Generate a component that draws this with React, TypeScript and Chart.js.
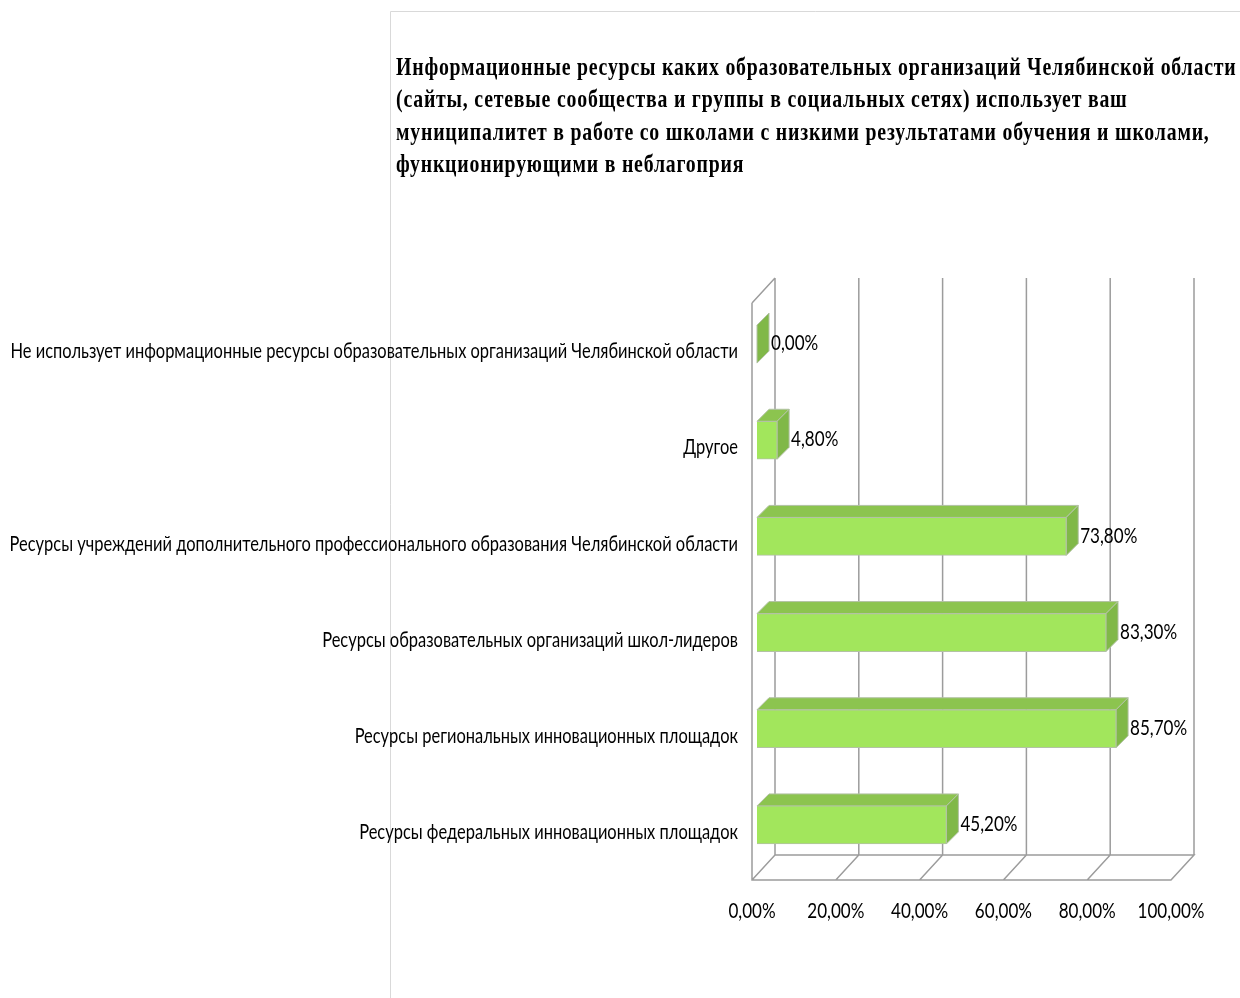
import React, { useEffect, useRef } from "react";
import { Chart, registerables } from "chart.js";

Chart.register(...registerables);

const categories = [
  "Не использует информационные ресурсы образовательных организаций Челябинской области",
  "Другое",
  "Ресурсы учреждений дополнительного профессионального образования Челябинской области",
  "Ресурсы образовательных организаций школ-лидеров",
  "Ресурсы региональных инновационных площадок",
  "Ресурсы федеральных инновационных площадок",
];
const values = [0, 4.8, 73.8, 83.3, 85.7, 45.2];
const xTicks = [0, 20, 40, 60, 80, 100];
const titleLines = [
  "Информационные ресурсы каких образовательных организаций Челябинской области",
  "(сайты, сетевые сообщества и группы в социальных сетях) использует ваш",
  "муниципалитет в работе со школами с низкими результатами обучения и школами,",
  "функционирующими в неблагоприя",
];

const LABEL_FONT = 'Lato, "Open Sans", sans-serif';
const LABEL_SIZE = 22;
const NUMBER_SQUEEZE = 0.775;
const CATEGORY_SQUEEZE = 0.748;
const TITLE_SQUEEZE = 0.792;
const GRID = "#9c9c9c";
const FRONT = "#a2e65c";
const TOP = "#8cc44f";
const SIDE = "#80b848";
const EDGE = "#b3c2a5";
const WALL_DX = 23;
const WALL_DY = 25;
const BAR_DX = 12;
const BAR_DY = 12;
const BAR_SHIFT_X = 5;
const BAR_SHIFT_Y = -7;
const fmt = (v: number) => v.toFixed(2).replace(".", ",") + "%";

let squeeze = NUMBER_SQUEEZE;

const withSqueeze = (ctx: any, target: any, method: string, value: number, spacing = "0px") => {
  const d = target[method];
  target[method] = function (...args: any[]) {
    squeeze = value;
    ctx.letterSpacing = spacing;
    d.apply(target, args);
    squeeze = NUMBER_SQUEEZE;
    ctx.letterSpacing = "0px";
  };
};

const scene = {
  id: "scene3d",
  beforeInit(chart: any) {
    const ctx = chart.ctx;
    const orig = ctx.fillText.bind(ctx);
    ctx.fillText = (t: string, x: number, y: number) => {
      orig(t, x, y, ctx.measureText(t).width * squeeze);
    };
  },
  beforeDraw(chart: any) {
    const { ctx, width, height } = chart;
    ctx.save();
    ctx.strokeStyle = "#d9d9d9";
    ctx.lineWidth = 1;
    ctx.beginPath();
    ctx.moveTo(390.5, height);
    ctx.lineTo(390.5, 11.5);
    ctx.lineTo(width, 11.5);
    ctx.stroke();

    const { left, right, top, bottom } = chart.chartArea;
    const x = chart.scales.x;
    ctx.strokeStyle = GRID;
    ctx.lineWidth = 1.5;
    ctx.beginPath();
    ctx.moveTo(left, top);
    ctx.lineTo(left, bottom);
    ctx.lineTo(right, bottom);
    ctx.lineTo(right + WALL_DX, bottom - WALL_DY);
    ctx.lineTo(left + WALL_DX, bottom - WALL_DY);
    ctx.moveTo(left, top);
    ctx.lineTo(left + WALL_DX, top - WALL_DY);
    for (const t of xTicks) {
      const px = x.getPixelForValue(t);
      ctx.moveTo(px, bottom);
      ctx.lineTo(px + WALL_DX, bottom - WALL_DY);
      ctx.lineTo(px + WALL_DX, top - WALL_DY);
    }
    ctx.stroke();
    ctx.restore();
  },
  beforeDatasetsDraw(chart: any) {
    const { ctx } = chart;
    ctx.save();
    ctx.translate(BAR_SHIFT_X, BAR_SHIFT_Y);
    const bars = chart.getDatasetMeta(0).data;
    ctx.lineWidth = 1;
    ctx.strokeStyle = EDGE;
    for (const b of bars) {
      const h = b.height / 2;
      ctx.fillStyle = TOP;
      ctx.beginPath();
      ctx.moveTo(b.base, b.y - h);
      ctx.lineTo(b.base + BAR_DX, b.y - h - BAR_DY);
      ctx.lineTo(b.x + BAR_DX, b.y - h - BAR_DY);
      ctx.lineTo(b.x, b.y - h);
      ctx.closePath();
      ctx.fill();
      ctx.stroke();
      ctx.fillStyle = SIDE;
      ctx.beginPath();
      ctx.moveTo(b.x, b.y - h);
      ctx.lineTo(b.x + BAR_DX, b.y - h - BAR_DY);
      ctx.lineTo(b.x + BAR_DX, b.y + h - BAR_DY);
      ctx.lineTo(b.x, b.y + h);
      ctx.closePath();
      ctx.fill();
      ctx.stroke();
    }
  },
  afterDatasetsDraw(chart: any) {
    const { ctx } = chart;
    ctx.restore();
    const bars = chart.getDatasetMeta(0).data;
    ctx.save();
    ctx.font = `${LABEL_SIZE}px ${LABEL_FONT}`;
    ctx.fillStyle = "#000";
    ctx.textAlign = "left";
    ctx.textBaseline = "middle";
    bars.forEach((b: any, i: number) => {
      ctx.fillText(fmt(values[i]), b.x + BAR_SHIFT_X + BAR_DX + 2, b.y - 8);
    });
    ctx.restore();
  },
  afterLayout(chart: any) {
    const t = chart.titleBlock;
    t.left = 396;
    t.right = 1900;
    if (!t.__wrapped) {
      t.__wrapped = true;
      withSqueeze(chart.ctx, t, "draw", TITLE_SQUEEZE, "1px");
      withSqueeze(chart.ctx, chart.scales.y, "drawLabels", CATEGORY_SQUEEZE);
    }
  },
};

export default function App() {
  const ref = useRef<HTMLCanvasElement>(null);
  useEffect(() => {
    const chart = new Chart(ref.current as HTMLCanvasElement, {
      type: "bar",
      data: {
        labels: categories,
        datasets: [
          {
            data: values,
            backgroundColor: FRONT,
            borderColor: EDGE,
            borderWidth: 1,
            barThickness: 38,
          },
        ],
      },
      plugins: [scene],
      options: {
        indexAxis: "y",
        responsive: false,
        animation: false,
        devicePixelRatio: 1,
        layout: { padding: { left: 0, top: 0, right: 69, bottom: 0 } },
        plugins: {
          legend: { display: false },
          tooltip: { enabled: false },
          title: {
            display: true,
            align: "start",
            text: titleLines,
            color: "#000",
            font: { family: '"Liberation Serif", serif', size: 25, weight: "bold", lineHeight: 32.5 / 25 },
            padding: { top: 52, bottom: 121 },
          },
        },
        scales: {
          x: {
            type: "linear",
            min: 0,
            max: 100,
            afterBuildTicks: (s: any) => {
              s.ticks = xTicks.map((value) => ({ value }));
            },
            grid: { display: false, drawTicks: false },
            border: { display: false },
            ticks: {
              padding: 18,
              maxRotation: 0,
              autoSkip: false,
              color: "#000",
              font: { family: LABEL_FONT, size: LABEL_SIZE },
              callback: (v: any) => fmt(Number(v)),
            },
            afterFit: (s: any) => {
              s.height = 118;
            },
          },
          y: {
            grid: { display: false, drawTicks: false },
            border: { display: false },
            ticks: {
              padding: 14,
              color: "#000",
              autoSkip: false,
              font: { family: LABEL_FONT, size: LABEL_SIZE },
            },
            afterFit: (s: any) => {
              s.width = 752;
            },
          },
        },
      } as any,
    });
    return () => chart.destroy();
  }, []);
  return (
    <div style={{ position: "absolute", left: 0, top: 0, width: 1240, height: 998, background: "#fff" }}>
      <canvas ref={ref} width={1240} height={998} style={{ display: "block" }} />
    </div>
  );
}
